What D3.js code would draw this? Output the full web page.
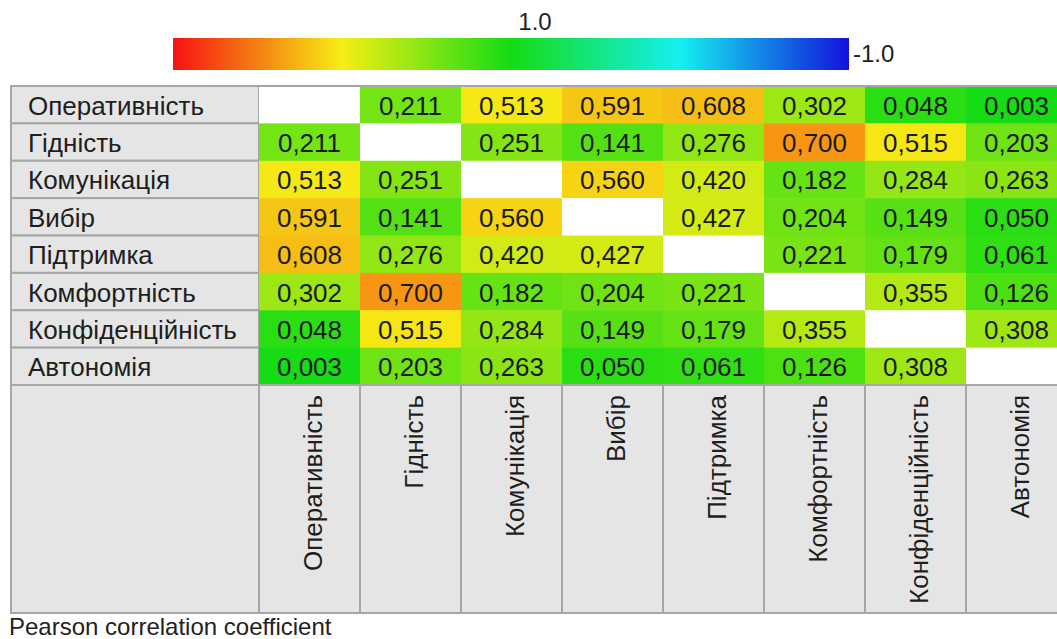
<!DOCTYPE html>
<html>
<head>
<meta charset="utf-8">
<script src="https://cdn.jsdelivr.net/npm/d3@7"></script>
<style>
  html, body { margin: 0; padding: 0; background: #fff; }
  svg { display: block; font-family: "Liberation Sans", Arial, sans-serif; }
</style>
</head>
<body>
<svg id="chart" width="1057" height="639"></svg>
<script>
// ---- data ----
const categories = ["Оперативність", "Гідність", "Комунікація", "Вибір", "Підтримка", "Комфортність", "Конфіденційність", "Автономія"];
const row0 = [null, 0.211, 0.513, 0.591, 0.608, 0.302, 0.048, 0.003];
const row1 = [0.211, null, 0.251, 0.141, 0.276, 0.700, 0.515, 0.203];
const row2 = [0.513, 0.251, null, 0.560, 0.420, 0.182, 0.284, 0.263];
const row3 = [0.591, 0.141, 0.560, null, 0.427, 0.204, 0.149, 0.050];
const row4 = [0.608, 0.276, 0.420, 0.427, null, 0.221, 0.179, 0.061];
const row5 = [0.302, 0.700, 0.182, 0.204, 0.221, null, 0.355, 0.126];
const row6 = [0.048, 0.515, 0.284, 0.149, 0.179, 0.355, null, 0.308];
const row7 = [0.003, 0.203, 0.263, 0.050, 0.061, 0.126, 0.308, null];
const matrix = [row0, row1, row2, row3, row4, row5, row6, row7];
const colorDomain = [1, 0.5, 0, -0.5, -1];
const colorbarLabels = ["1.0", "-1.0"];
const caption = "Pearson correlation coefficient";

// ---- layout ----
const svg = d3.select("#chart");
const tableLeft = 11, headerRight = 259, colW = 101;
const tableTop = 86, dataBottom = 385, tableBottom = 613;
const borderColor = "#a6a6a6", headBg = "#e5e5e5";
const fontSize = 26;

const color = d3.scaleLinear()
  .domain(colorDomain)
  .range(["#f51212", "#f6ee14", "#14dc14", "#14f0f0", "#1212dc"])
  .interpolate(d3.interpolateRgb);

const x = d3.scaleBand().domain(categories).range([headerRight, headerRight + colW * categories.length]);
const y = d3.scaleBand().domain(categories).range([tableTop, dataBottom]);

// ---- colorbar ----
const cbX0 = 173, cbX1 = 849, cbY = 38, cbH = 32;
const defs = svg.append("defs");
const grad = defs.append("linearGradient").attr("id", "cb").attr("x1", "0%").attr("x2", "100%");
const cbScale = d3.scaleLinear().domain([1, -1]).range([0, 1]);
d3.range(0, 21).forEach(i => {
  const v = 1 - i * 0.1;
  grad.append("stop").attr("offset", (cbScale(v) * 100) + "%").attr("stop-color", color(v));
});
svg.append("rect").attr("x", cbX0).attr("y", cbY).attr("width", cbX1 - cbX0).attr("height", cbH).attr("fill", "url(#cb)");
svg.append("text").attr("x", 535).attr("y", 30).attr("text-anchor", "middle")
  .attr("font-size", 24).attr("fill", "#222").text(colorbarLabels[0]);
svg.append("text").attr("x", cbX1 + 4).attr("y", 62).attr("text-anchor", "start")
  .attr("font-size", 24).attr("fill", "#222").text(colorbarLabels[1]);

// ---- header column (row labels) ----
const g = svg.append("g");
g.selectAll("rect.rowhead").data(categories).join("rect")
  .attr("class", "rowhead")
  .attr("x", tableLeft).attr("y", d => y(d))
  .attr("width", headerRight - tableLeft).attr("height", y.bandwidth())
  .attr("fill", headBg).attr("stroke", borderColor).attr("stroke-width", 2);
g.selectAll("text.rowlab").data(categories).join("text")
  .attr("class", "rowlab")
  .attr("x", tableLeft + 17).attr("y", d => y(d) + y.bandwidth() / 2 + 1)
  .attr("dominant-baseline", "central")
  .attr("font-size", fontSize).attr("fill", "#1e1e1e").text(d => d);

// ---- cells ----
const cells = [];
matrix.forEach((row, i) => row.forEach((v, j) => cells.push({ r: categories[i], c: categories[j], v })));
g.selectAll("rect.cell").data(cells).join("rect")
  .attr("class", "cell")
  .attr("x", d => x(d.c)).attr("y", d => y(d.r))
  .attr("width", x.bandwidth()).attr("height", y.bandwidth() + 0.5)
  .attr("fill", d => d.v == null ? "#ffffff" : color(d.v));
const fmt = v => d3.format(".3f")(v).replace(".", ",");
g.selectAll("text.val").data(cells.filter(d => d.v != null)).join("text")
  .attr("class", "val")
  .attr("x", d => x(d.c) + x.bandwidth() / 2).attr("y", d => y(d.r) + y.bandwidth() / 2 + 1)
  .attr("text-anchor", "middle").attr("dominant-baseline", "central")
  .attr("font-size", fontSize).attr("fill", "#1a1a1a").text(d => fmt(d.v));

// top border across the data area
g.append("line").attr("x1", headerRight).attr("x2", 1057).attr("y1", tableTop).attr("y2", tableTop)
  .attr("stroke", borderColor).attr("stroke-width", 2);

// ---- column header area ----
g.append("rect").attr("x", tableLeft).attr("y", dataBottom)
  .attr("width", headerRight - tableLeft).attr("height", tableBottom - dataBottom)
  .attr("fill", headBg).attr("stroke", borderColor).attr("stroke-width", 2);
g.selectAll("rect.colhead").data(categories).join("rect")
  .attr("class", "colhead")
  .attr("x", d => x(d)).attr("y", dataBottom)
  .attr("width", x.bandwidth()).attr("height", tableBottom - dataBottom)
  .attr("fill", headBg).attr("stroke", borderColor).attr("stroke-width", 2);
g.selectAll("text.collab").data(categories).join("text")
  .attr("class", "collab")
  .attr("transform", d => `translate(${x(d) + x.bandwidth() / 2 + 3},${dataBottom + 10}) rotate(-90)`)
  .attr("text-anchor", "end").attr("dominant-baseline", "central")
  .attr("font-size", fontSize).attr("fill", "#1e1e1e").text(d => d);

// ---- caption ----
svg.append("text").attr("x", 9).attr("y", 635).attr("font-size", 24)
  .attr("fill", "#222").text(caption);
</script>
</body>
</html>
